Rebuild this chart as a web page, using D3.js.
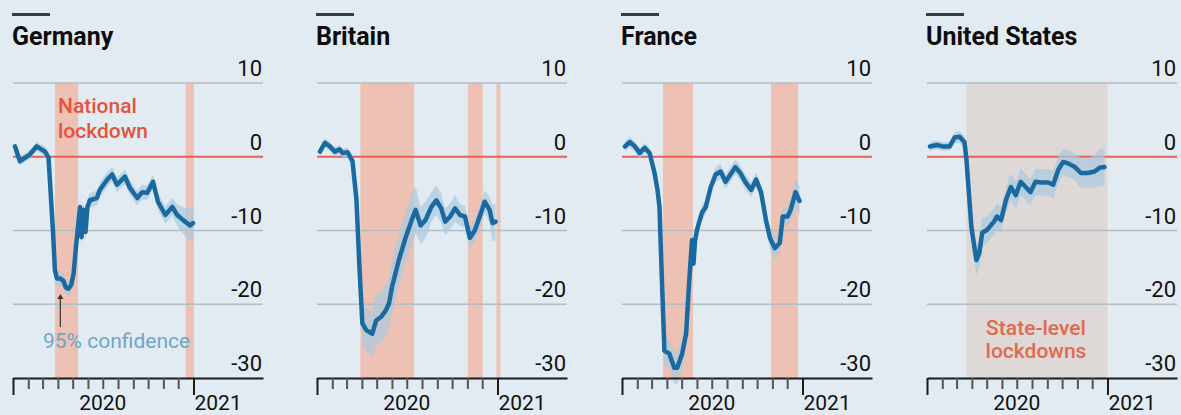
<!DOCTYPE html>
<html>
<head>
<meta charset="utf-8">
<script src="https://cdn.jsdelivr.net/npm/d3@7"></script>
<style>
  body { margin: 0; background: #e3ebf2; }
  svg { display: block; font-family: Roboto, "Open Sans", sans-serif; }
</style>
</head>
<body>
<script>
// ---- data ----
let countries = ["Germany", "Britain", "France", "United States"];
let yTicks = [10, 0, -10, -20, -30];

let germanyDates = ["2020-01-05","2020-01-15","2020-02-04","2020-02-18","2020-03-06","2020-03-13","2020-03-22","2020-03-26","2020-03-30","2020-04-05","2020-04-12","2020-04-17","2020-04-22","2020-04-28","2020-05-03","2020-05-08","2020-05-16","2020-05-19","2020-05-23","2020-05-27","2020-05-31","2020-06-05","2020-06-19","2020-06-25","2020-07-10","2020-07-20","2020-07-30","2020-08-15","2020-08-25","2020-09-09","2020-09-19","2020-09-29","2020-10-11","2020-10-21","2020-11-05","2020-11-19","2020-11-29","2020-12-11","2020-12-25","2020-12-31"];
let germanyValues = [1.4,-0.6,0.3,1.4,0.7,-0.1,-10,-15.4,-16.5,-16.5,-16.8,-17.7,-17.9,-17.4,-15.8,-12,-6.8,-10.9,-7.2,-10.2,-6.8,-5.9,-5.6,-4.5,-3.1,-2.4,-3.8,-2.7,-4.2,-5.6,-4.8,-4.9,-3.4,-6.1,-7.9,-6.8,-7.9,-8.6,-9.3,-9.0];
let germanyCI = [0.6,0.6,0.6,0.6,0.7,0.7,1,1,1,1,1,1,1,1,1.2,1.2,1.2,1.2,1.2,1.2,1,1,1,1,1,1,1,1,1,1,1,1,1,1.2,1.2,1.2,1.5,1.8,2.2,2.5];

let britainDates = ["2020-01-07","2020-01-17","2020-01-27","2020-02-06","2020-02-16","2020-02-22","2020-03-03","2020-03-13","2020-03-21","2020-03-27","2020-04-02","2020-04-10","2020-04-22","2020-04-30","2020-05-10","2020-05-20","2020-05-26","2020-06-01","2020-06-15","2020-06-29","2020-07-11","2020-07-19","2020-07-29","2020-08-08","2020-08-20","2020-08-30","2020-09-09","2020-09-17","2020-09-27","2020-10-07","2020-10-17","2020-10-27","2020-11-06","2020-11-16","2020-11-26","2020-12-06","2020-12-16","2020-12-22","2020-12-28"];
let britainValues = [0.7,1.9,1.4,0.7,1.0,0.5,0.6,-0.6,-5.8,-14.9,-22.6,-23.5,-24.0,-22.2,-21.7,-20.8,-19.9,-17.7,-14.0,-10.9,-8.6,-7.2,-9.3,-8.6,-6.8,-5.9,-7.0,-8.8,-8.1,-7.0,-7.9,-8.1,-11.0,-10.0,-8.1,-6.1,-7.2,-9.0,-8.8];
let britainCI = [0.6,0.6,0.6,0.6,0.6,0.6,0.7,0.8,1.5,2.5,3,3,3,3.5,3.5,3.5,3.5,3.5,3.5,3.5,3.5,3.2,2.5,2.5,2,2,2,1.8,1.8,1.8,1.5,1.5,1.5,1.5,1.5,1.5,1.8,2.5,2.5];

let franceDates = ["2020-01-07","2020-01-17","2020-01-27","2020-02-06","2020-02-16","2020-02-26","2020-03-07","2020-03-13","2020-03-17","2020-03-21","2020-03-27","2020-04-06","2020-04-16","2020-04-22","2020-05-02","2020-05-10","2020-05-16","2020-05-22","2020-05-25","2020-05-28","2020-06-01","2020-06-11","2020-06-19","2020-06-29","2020-07-09","2020-07-19","2020-07-29","2020-08-08","2020-08-18","2020-08-28","2020-09-07","2020-09-19","2020-09-29","2020-10-09","2020-10-19","2020-10-27","2020-11-06","2020-11-16","2020-11-22","2020-12-02","2020-12-08","2020-12-18","2020-12-26"];
let franceValues = [1.4,2.0,1.4,0.5,1.2,0.5,-2.2,-4.5,-6.8,-14.9,-26.3,-26.7,-28.6,-28.6,-26.7,-24.0,-17.2,-11.3,-14.5,-11.5,-9.9,-7.6,-6.8,-4.1,-2.4,-2.0,-3.4,-2.4,-1.4,-2.2,-3.4,-4.5,-3.1,-4.8,-8.6,-11.0,-12.4,-11.7,-8.1,-8.1,-7.2,-4.8,-6.0];
let franceCI = [0.7,0.7,0.7,0.7,0.7,0.7,0.8,0.8,1,1.5,2,2,2.2,2.2,2,1.5,1.2,1,1,1,1,1,1,1,1,1,1,1,1,1,1,1,1,1,1.2,1.5,1.5,1.5,1.2,1.2,1.5,1.8,2];

let usDates = ["2020-01-07","2020-01-21","2020-02-02","2020-02-16","2020-02-26","2020-03-07","2020-03-17","2020-03-21","2020-03-31","2020-04-10","2020-04-16","2020-04-22","2020-05-02","2020-05-16","2020-05-22","2020-05-30","2020-06-09","2020-06-19","2020-06-29","2020-07-09","2020-07-19","2020-07-29","2020-08-08","2020-08-20","2020-09-03","2020-09-13","2020-09-23","2020-10-03","2020-10-13","2020-10-27","2020-11-08","2020-11-22","2020-12-06","2020-12-16","2020-12-26"];
let usValues = [1.4,1.6,1.4,1.4,2.6,2.7,2.0,-0.4,-9.5,-14.0,-13.1,-10.3,-9.9,-8.8,-8.1,-8.6,-5.9,-4.1,-5.2,-3.4,-4.1,-4.8,-3.4,-3.5,-3.5,-3.8,-1.8,-0.7,-0.9,-1.4,-2.2,-2.2,-2.0,-1.5,-1.4];
let usCI = [0.6,0.6,0.6,0.6,0.8,0.8,0.8,1,1.5,2,2,2,1.8,1.8,1.8,1.8,1.8,1.8,1.8,1.8,1.8,1.8,1.8,1.8,1.8,1.8,1.8,1.8,1.8,1.8,2,2,2.2,2.5,2.5];

// lockdown periods [start, end]
let germanyLockdowns = [["2020-03-26","2020-05-12"], ["2020-12-16","2021-01-02"]];
let britainLockdowns = [["2020-03-29","2020-07-16"], ["2020-11-02","2020-12-02"], ["2020-12-30","2021-01-07"]];
let franceLockdowns = [["2020-03-24","2020-05-24"], ["2020-10-29","2020-12-23"]];
let usLockdowns = [["2020-03-21","2021-01-01"]];

let allDates = [germanyDates, britainDates, franceDates, usDates];
let allValues = [germanyValues, britainValues, franceValues, usValues];
let allCI = [germanyCI, britainCI, franceCI, usCI];
let allLockdowns = [germanyLockdowns, britainLockdowns, franceLockdowns, usLockdowns];

// ---- layout ----
let W = 1181, H = 415;
let panelX = [13, 317, 622, 927];
let panelW = 250;
let parse = d3.timeParse("%Y-%m-%d");

let svg = d3.select("body").append("svg")
    .attr("width", W)
    .attr("height", H);

svg.append("rect").attr("width", W).attr("height", H).attr("fill", "#e3ebf2");

let x = d3.scaleTime()
    .domain([new Date(2020, 0, 1), new Date(2021, 4, 22)])
    .range([0, panelW]);
let y = d3.scaleLinear()
    .domain([-30, 10])
    .range([378, 83]);

let monthTicks = d3.timeMonth.range(new Date(2020, 0, 1), new Date(2021, 0, 2));

countries.forEach(function(name, i) {
    let g = svg.append("g").attr("transform", "translate(" + panelX[i] + ",0)");
    let data = allDates[i].map((d, j) => ({ date: parse(d), v: allValues[i][j], ci: allCI[i][j] }));

    // title
    g.append("rect").attr("x", -1).attr("y", 13).attr("width", 38).attr("height", 3).attr("fill", "#3a3a3a");
    g.append("text")
        .attr("x", -1).attr("y", 45)
        .style("font-size", "25px").style("font-weight", "bold")
        .attr("fill", "#0d0d0d")
        .text(name);

    // lockdown shading
    g.selectAll(".lock")
        .data(allLockdowns[i])
        .enter().append("rect")
        .attr("x", d => x(parse(d[0])))
        .attr("width", d => x(parse(d[1])) - x(parse(d[0])))
        .attr("y", y(10))
        .attr("height", y(-30) - y(10))
        .attr("fill", name == "United States" ? "#ddd5d1" : "#efb6a4")
        .attr("opacity", name == "United States" ? 0.85 : 0.8);

    // gridlines
    g.selectAll(".grid")
        .data(yTicks.filter(t => t != 0 && t != -30))
        .enter().append("line")
        .attr("x1", 0).attr("x2", panelW)
        .attr("y1", d => y(d)).attr("y2", d => y(d))
        .attr("stroke", "#b4bcc4").attr("stroke-width", 1.5);

    g.append("line")
        .attr("x1", 0).attr("x2", panelW)
        .attr("y1", y(0)).attr("y2", y(0))
        .attr("stroke", "#e4625a").attr("stroke-width", 2);

    // y labels
    g.selectAll(".ylab")
        .data(yTicks)
        .enter().append("text")
        .attr("x", 249)
        .attr("y", d => y(d) - 7)
        .attr("text-anchor", "end")
        .attr("fill", "#111")
        .style("font-size", "22px")
        .text(d => d);

    // confidence band
    let area = d3.area()
        .x(d => x(d.date))
        .y0(d => y(d.v - d.ci))
        .y1(d => y(d.v + d.ci));
    g.append("path")
        .datum(data)
        .attr("d", area)
        .attr("fill", "#a9cae0")
        .attr("opacity", 0.7);

    let line = d3.line()
        .x(d => x(d.date))
        .y(d => y(d.v));
    g.append("path")
        .datum(data)
        .attr("d", line)
        .attr("fill", "none")
        .attr("stroke", "#1a6aa1")
        .attr("stroke-width", 4.5)
        .attr("stroke-linejoin", "round")
        .attr("stroke-linecap", "round");

    // x axis
    let axis = d3.axisBottom(x)
        .tickValues(monthTicks)
        .tickSize(11)
        .tickSizeOuter(0)
        .tickFormat("");
    let ax = g.append("g").attr("transform", "translate(0," + y(-30) + ")").call(axis);
    ax.select(".domain").attr("stroke", "#1a1a1a").attr("stroke-width", 2);
    ax.selectAll(".tick line")
        .attr("stroke-width", 2)
        .attr("y2", d => d.getMonth() == 0 ? 17 : 11)
        .attr("stroke", d => d.getMonth() == 0 ? "#1a1a1a" : "#555");

    g.append("text")
        .attr("x", x(new Date(2020, 6, 1)))
        .attr("y", 410)
        .attr("text-anchor", "middle")
        .attr("fill", "#111")
        .style("font-size", "21px")
        .text("2020");
    g.append("text")
        .attr("x", x(new Date(2021, 0, 1)) + 1)
        .attr("y", 410)
        .attr("fill", "#111")
        .style("font-size", "21px")
        .text("2021");

    // annotations
    if (name == "Germany") {
        g.append("text").attr("x", 45).attr("y", 113)
            .attr("fill", "#e4533c").style("font-size", "21px").style("font-weight", 500)
            .text("National");
        g.append("text").attr("x", 45).attr("y", 138)
            .attr("fill", "#e4533c").style("font-size", "21px").style("font-weight", 500)
            .text("lockdown");
        let ax0 = x(parse("2020-04-06"));
        g.append("line")
            .attr("x1", ax0).attr("x2", ax0)
            .attr("y1", y(-23.1)).attr("y2", y(-18.9))
            .attr("stroke", "#333").attr("stroke-width", 1.2);
        g.append("path")
            .attr("d", d3.line()([[ax0 - 3, y(-19.3)], [ax0, y(-18.6)], [ax0 + 3, y(-19.3)]]))
            .attr("fill", "#333");
        g.append("text").attr("x", 30).attr("y", 348)
            .attr("fill", "#6ea6c6").style("font-size", "21px")
            .text("95% confidence");
    }
    if (name == "United States") {
        g.append("text").attr("x", 109).attr("y", 335).attr("text-anchor", "middle")
            .attr("fill", "#e2694e").style("font-size", "21px").style("font-weight", 500)
            .text("State-level");
        g.append("text").attr("x", 109).attr("y", 358).attr("text-anchor", "middle")
            .attr("fill", "#e2694e").style("font-size", "21px").style("font-weight", 500)
            .text("lockdowns");
    }
});
</script>
</body>
</html>
